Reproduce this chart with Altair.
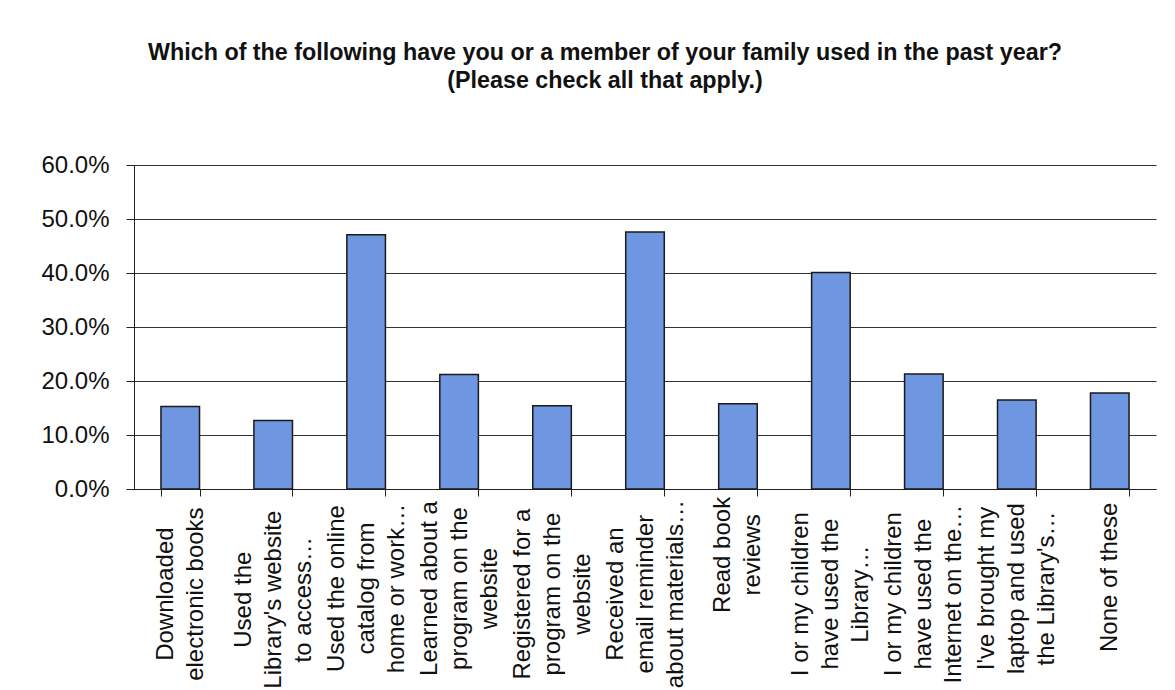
import altair as alt
import pandas as pd

categories = [
    "Downloaded|electronic books",
    "Used the|Library's website|to access…",
    "Used the online|catalog from|home or work…",
    "Learned about a|program on the|website",
    "Registered for a|program on the|website",
    "Received an|email reminder|about materials…",
    "Read book|reviews",
    "I or my children|have used the|Library…",
    "I or my children|have used the|Internet on the…",
    "I've brought my|laptop and used|the Library's…",
    "None of these",
]
values = [0.153, 0.127, 0.471, 0.212, 0.154, 0.476, 0.158, 0.401, 0.213, 0.165, 0.178]

df = pd.DataFrame({"cat": categories, "val": values})

FONT = "Liberation Sans"
LH = 30

label_offset = {
    "condition": [
        {"test": "length(split(datum.value, '|')) == 3", "value": -LH},
        {"test": "length(split(datum.value, '|')) == 2", "value": -LH / 2},
    ],
    "value": 0,
}

# lines of each label are centred on one another; push each block away from
# the axis by about half the length of its longest line
longest = ("max(length(split(datum.value,'|')[0]),"
           " length(split(datum.value,'|')[1] || ''),"
           " length(split(datum.value,'|')[2] || ''))")
label_padding = {
    "condition": {"test": "false", "value": 8},
    "expr": f"8 + {longest} * 5.6",
}

chart = (
    alt.Chart(df, title=alt.Title(
        ["Which of the following have you or a member of your family used in the past year?",
         "(Please check all that apply.)"],
        font=FONT, fontSize=23.3, fontWeight="bold", color="#111",
        lineHeight=28, offset=60, anchor="middle", dx=-40,
    ))
    .mark_bar(color="#6f96e0", stroke="#1a1a1a", strokeWidth=1.5)
    .encode(
        x=alt.X("cat:N", sort=categories, title=None,
                scale=alt.Scale(paddingInner=0.585, paddingOuter=0.29),
                axis=alt.Axis(labelAngle=-90, labelExpr="split(datum.label, '|')",
                              labelAlign="center", labelBaseline="middle",
                              labelFont=FONT, labelFontSize=24, labelLineHeight=LH,
                              labelColor="#111", labelPadding=label_padding,
                              tickBand="extent", labelOffset=label_offset,
                              tickSize=7, tickColor="#222", domainColor="#222",
                              labelLimit=400)),
        y=alt.Y("val:Q", title=None,
                scale=alt.Scale(domain=[0, 0.6]),
                axis=alt.Axis(format=".1%", values=[0, 0.1, 0.2, 0.3, 0.4, 0.5, 0.6],
                              labelFont=FONT, labelFontSize=24, labelColor="#111",
                              labelPadding=17, tickSize=8, tickColor="#222",
                              domainColor="#222", gridColor="#333", gridWidth=1)),
    )
    .properties(width=1022, height=324,
                padding={"left": 32, "top": 32, "right": 5, "bottom": 5})
    .configure_view(stroke=None)
    .configure_axisX(grid=False)
)

chart.save("out.html", embed_options={"renderer": "svg", "actions": False})
